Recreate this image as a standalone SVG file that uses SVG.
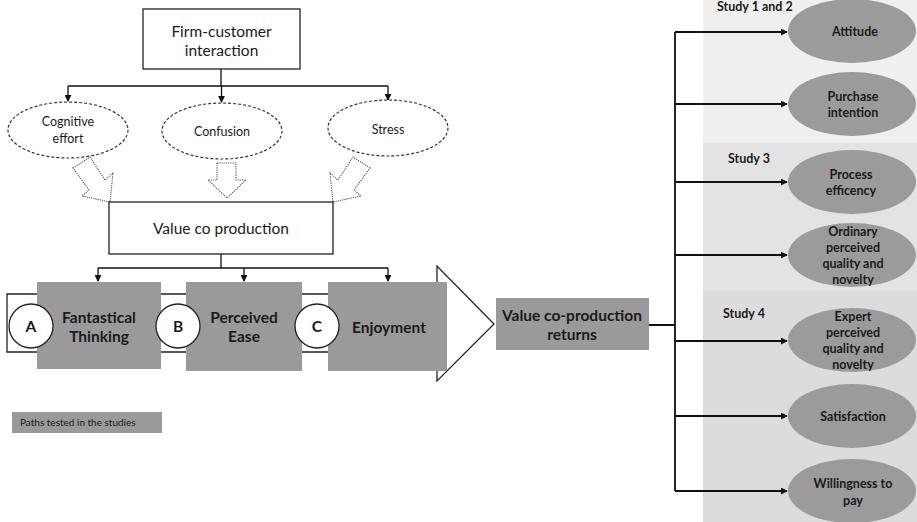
<svg xmlns="http://www.w3.org/2000/svg" width="917" height="522" viewBox="0 0 917 522">
  <defs>
    <marker id="arr" viewBox="0 0 8 8" refX="7" refY="4" markerWidth="7" markerHeight="7" markerUnits="userSpaceOnUse" orient="auto">
      <path d="M0,0 L8,4 L0,8 z" fill="#111"/>
    </marker>
    <style>
      text { font-family: Lato, "Open Sans", "Liberation Sans", sans-serif; fill: #1a1a1a; text-anchor: middle; }
      .reg { font-size: 15.5px; }
      .sm { font-size: 12.5px; }
      .bold { font-weight: bold; font-size: 15.5px; }
      .obold { font-weight: bold; font-size: 12.5px; }
      .study { font-weight: bold; font-size: 12.5px; text-anchor: start; }
      .box { fill: #fff; stroke: #222; stroke-width: 1.3; }
      .dash { fill: #fff; stroke: #333; stroke-width: 1.2; stroke-dasharray: 3 2; }
      .dot { fill: #fff; stroke: #555; stroke-width: 1.1; stroke-dasharray: 1.2 1; }
      .grey { fill: #9a9a9a; }
      .oval { fill: #9b9b9b; }
      .circ { fill: #fff; stroke: #222; stroke-width: 1.3; }
      .line { fill: none; stroke: #111; stroke-width: 1.3; }
      .line2 { fill: none; stroke: #111; stroke-width: 1.8; }
    </style>
  </defs>

  <!-- study panels -->
  <rect x="703" y="0" width="214" height="143" fill="#efefef"/>
  <rect x="703" y="143" width="214" height="148" fill="#e3e3e3"/>
  <rect x="703" y="291" width="214" height="231" fill="#dcdcdc"/>
  <text class="study" x="717" y="11">Study 1 and 2</text>
  <text class="study" x="728" y="163">Study 3</text>
  <text class="study" x="723" y="318">Study 4</text>

  <!-- connectors -->
  <g id="connectors">
    <path class="line" d="M221,69 V86 M68,86 H388" />
    <path class="line" d="M68,86 V101" marker-end="url(#arr)"/>
    <path class="line" d="M221.5,86 V102" marker-end="url(#arr)"/>
    <path class="line" d="M388,86 V100" marker-end="url(#arr)"/>
    <path class="line" d="M221,254 V268 M98,268 H388"/>
    <path class="line" d="M98,268 V281" marker-end="url(#arr)"/>
    <path class="line" d="M244,268 V281" marker-end="url(#arr)"/>
    <path class="line" d="M388,268 V281" marker-end="url(#arr)"/>
    <path class="line2" d="M649,325 H675 M675,32 V491"/>
    <path class="line2" d="M675,32 H787" marker-end="url(#arr)"/>
    <path class="line2" d="M675,104 H787" marker-end="url(#arr)"/>
    <path class="line2" d="M675,182 H787" marker-end="url(#arr)"/>
    <path class="line2" d="M675,255 H787" marker-end="url(#arr)"/>
    <path class="line2" d="M675,341 H787" marker-end="url(#arr)"/>
    <path class="line2" d="M675,416 H787" marker-end="url(#arr)"/>
    <path class="line2" d="M675,491 H787" marker-end="url(#arr)"/>
  </g>

  <g id="firm-customer">
    <rect class="box" x="143" y="9" width="157" height="60"/>
    <text class="reg" x="221.5" y="37">Firm-customer</text>
    <text class="reg" x="221.5" y="56">interaction</text>
  </g>

  <g id="cognitive-effort">
    <ellipse class="dash" cx="68" cy="130" rx="60" ry="28"/>
    <text class="sm" x="68" y="126">Cognitive</text>
    <text class="sm" x="68" y="143">effort</text>
  </g>
  <g id="confusion">
    <ellipse class="dash" cx="222" cy="131" rx="60" ry="28"/>
    <text class="sm" x="222" y="136">Confusion</text>
  </g>
  <g id="stress">
    <ellipse class="dash" cx="388" cy="128" rx="60" ry="28"/>
    <text class="sm" x="388" y="134">Stress</text>
  </g>

  <!-- hollow block arrows into value co production -->
  <g id="block-arrows">
    <polygon class="dot" points="73,168 90,157 105,180 113,173 110,202 82,196 89,190"/>
    <polygon class="dot" points="217,163 236,163 236,180 246,180 227,198 208,180 217,180"/>
    <polygon class="dot" points="370,168 353,157 338,180 330,173 333,202 361,196 354,190"/>
  </g>

  <g id="value-co-production">
    <rect class="box" x="109" y="202" width="224" height="52"/>
    <text class="reg" x="221" y="234">Value co production</text>
  </g>

  <!-- process arrow -->
  <g id="process-arrow">
    <polygon class="box" points="7,294 437,294 437,266 494,324 437,381 437,352 7,352"/>
  </g>

  <g id="fantastical-thinking">
    <rect class="grey" x="37" y="282" width="124" height="87"/>
    <circle class="circ" cx="31" cy="326" r="22"/>
    <text class="bold" x="31" y="332">A</text>
    <text class="bold" x="99" y="323">Fantastical</text>
    <text class="bold" x="99" y="342">Thinking</text>
  </g>
  <g id="perceived-ease">
    <rect class="grey" x="186" y="282" width="116" height="89"/>
    <circle class="circ" cx="178" cy="326" r="22"/>
    <text class="bold" x="178" y="332">B</text>
    <text class="bold" x="244" y="323">Perceived</text>
    <text class="bold" x="244" y="342">Ease</text>
  </g>
  <g id="enjoyment">
    <rect class="grey" x="328" y="282" width="119" height="89"/>
    <circle class="circ" cx="317" cy="326" r="22"/>
    <text class="bold" x="317" y="332">C</text>
    <text class="bold" x="389" y="333">Enjoyment</text>
  </g>

  <g id="legend">
    <rect class="grey" x="12" y="412" width="150" height="21"/>
    <text x="20" y="426" style="font-size:10px;text-anchor:start">Paths tested in the studies</text>
  </g>

  <g id="value-co-production-returns">
    <rect class="grey" x="496" y="298" width="153" height="52"/>
    <text class="bold" x="572" y="321">Value co-production</text>
    <text class="bold" x="572" y="340">returns</text>
  </g>

  <g id="attitude">
    <ellipse class="oval" cx="852" cy="31" rx="64" ry="32"/>
    <text class="obold" x="855" y="36">Attitude</text>
  </g>
  <g id="purchase-intention">
    <ellipse class="oval" cx="852" cy="104" rx="64" ry="32"/>
    <text class="obold" x="853" y="101">Purchase</text>
    <text class="obold" x="853" y="117">intention</text>
  </g>
  <g id="process-efficency">
    <ellipse class="oval" cx="852" cy="182" rx="64" ry="32"/>
    <text class="obold" x="851" y="179">Process</text>
    <text class="obold" x="851" y="195">efficency</text>
  </g>
  <g id="ordinary-quality">
    <ellipse class="oval" cx="852" cy="255" rx="64" ry="32"/>
    <text class="obold" x="853" y="236">Ordinary</text>
    <text class="obold" x="853" y="252">perceived</text>
    <text class="obold" x="853" y="268">quality and</text>
    <text class="obold" x="853" y="284">novelty</text>
  </g>
  <g id="expert-quality">
    <ellipse class="oval" cx="852" cy="340" rx="64" ry="32"/>
    <text class="obold" x="853" y="321">Expert</text>
    <text class="obold" x="853" y="337">perceived</text>
    <text class="obold" x="853" y="353">quality and</text>
    <text class="obold" x="853" y="369">novelty</text>
  </g>
  <g id="satisfaction">
    <ellipse class="oval" cx="852" cy="416" rx="64" ry="32"/>
    <text class="obold" x="853" y="421">Satisfaction</text>
  </g>
  <g id="willingness-to-pay">
    <ellipse class="oval" cx="852" cy="491" rx="64" ry="32"/>
    <text class="obold" x="853" y="488">Willingness to</text>
    <text class="obold" x="853" y="505">pay</text>
  </g>
</svg>
